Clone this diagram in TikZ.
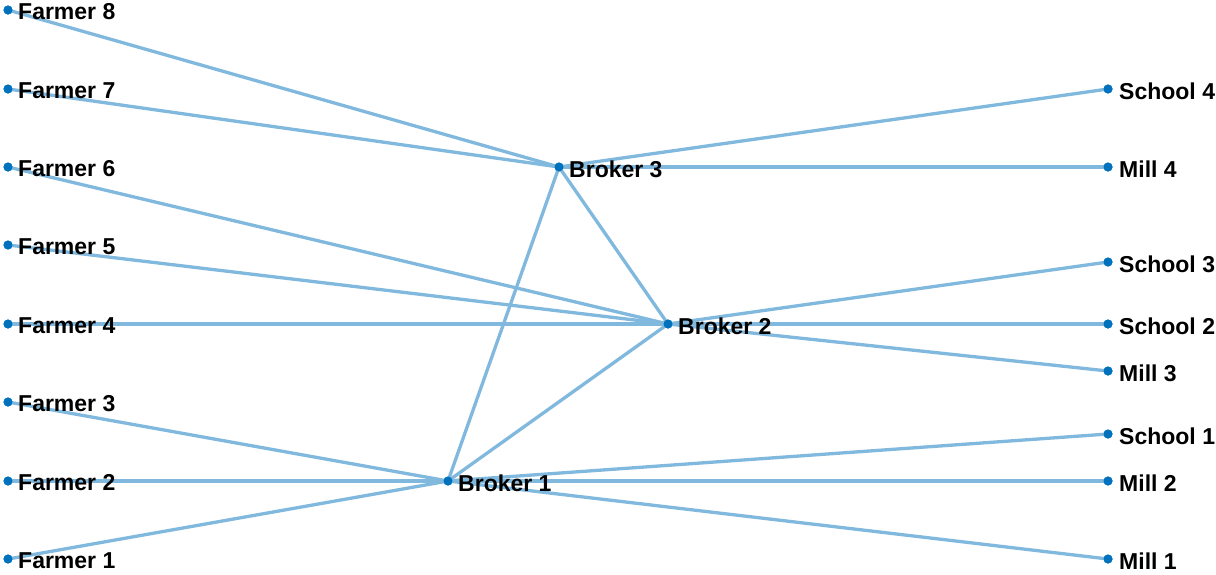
\documentclass[tikz,border=0pt]{standalone}
\usepackage{fontspec}
\setmainfont{Liberation Sans}
\definecolor{nodeblue}{RGB}{0,114,189}
\definecolor{edgeblue}{RGB}{128,184,222}
\begin{document}
\begin{tikzpicture}[x=1pt,y=-1pt,
  vert/.style={circle,fill=nodeblue,inner sep=0pt,minimum size=9pt},
  lab/.style={anchor=west,inner sep=0pt,font=\fontsize{23}{27}\selectfont\bfseries},
  edge/.style={draw=edgeblue,line width=3.3pt}]
\useasboundingbox (0,0) rectangle (1216,574);
\foreach \n/\y in {8/10,7/89,6/167,5/245,4/324,3/402,2/481,1/559}{
  \node[vert] (F\n) at (8,\y) {};
}
\node[vert] (B3) at (559,167) {};
\node[vert] (B2) at (668,324) {};
\node[vert] (B1) at (448,481) {};
\node[vert] (S4) at (1108,89) {};
\node[vert] (M4) at (1108,167) {};
\node[vert] (S3) at (1108,262) {};
\node[vert] (S2) at (1108,324) {};
\node[vert] (M3) at (1108,371) {};
\node[vert] (S1) at (1108,434) {};
\node[vert] (M2) at (1108,481) {};
\node[vert] (M1) at (1108,559) {};
\foreach \a/\b in {F8/B3,F7/B3,F6/B2,F5/B2,F4/B2,F3/B1,F2/B1,F1/B1,B1/B3,B1/B2,B3/B2,B3/S4,B3/M4,B2/S3,B2/S2,B2/M3,B1/S1,B1/M2,B1/M1}{
  \draw[edge] (\a.center) -- (\b.center);
}
\foreach \p in {F1,F2,F3,F4,F5,F6,F7,F8,B1,B2,B3,S1,S2,S3,S4,M1,M2,M3,M4}{
  \node[vert] at (\p) {};
}
\foreach \n in {1,...,8}{
  \node[lab] (LF\n) at ([xshift=10pt,yshift=-2pt]F\n.center) {Farmer \n};
}
\node[lab] (LB1) at ([xshift=10pt,yshift=-2pt]B1.center) {Broker 1};
\node[lab] (LB2) at ([xshift=10pt,yshift=-2pt]B2.center) {Broker 2};
\node[lab] (LB3) at ([xshift=10pt,yshift=-2pt]B3.center) {Broker 3};
\foreach \n in {1,...,4}{
  \node[lab] (LS\n) at ([xshift=11pt,yshift=-2pt]S\n.center) {School \n};
  \node[lab] (LM\n) at ([xshift=11pt,yshift=-2pt]M\n.center) {Mill \n};
}
\end{tikzpicture}
\end{document}
